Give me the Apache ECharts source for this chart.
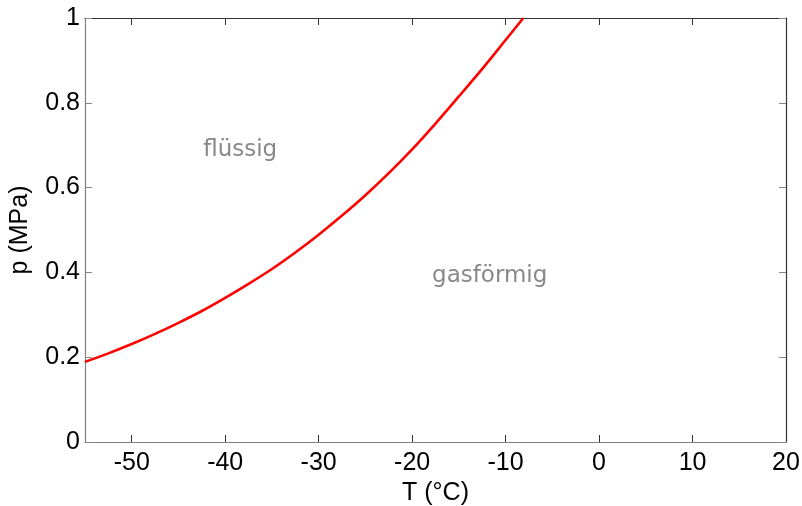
<!DOCTYPE html>
<html>
<head>
<meta charset="utf-8">
<script src="https://cdn.jsdelivr.net/npm/echarts@6/dist/echarts.min.js"></script>
<style>html,body{margin:0;padding:0;background:#fff}#c{width:802px;height:506px}</style>
</head>
<body>
<div id="c"></div>
<script>
var temps = [-55,-52.5,-50,-47.5,-45,-42.5,-40,-37.5,-35,-32.5,-30,-27.5,-25,-22.5,-20,-17.5,-15,-12.5,-10,-8.1];
var pressures = [0.189,0.209,0.231,0.255,0.281,0.309,0.340,0.373,0.408,0.447,0.489,0.534,0.582,0.634,0.690,0.751,0.815,0.880,0.948,1.0];
var xTicks = [-50,-40,-30,-20,-10,0,10,20];
var yTicks = [0,0.2,0.4,0.6,0.8,1];
var labels = [
  {text:'flüssig', T:-38.4, p:0.689},
  {text:'gasförmig', T:-11.7, p:0.392}
];

var chart = echarts.init(document.getElementById('c'));
var font = 'Liberation Sans, Arial, sans-serif';
function xAx(pos, show, lineColor){
  return {type:'value', min:-55, max:20, interval:10, position:pos,
    name: show ? 'T (°C)' : '', nameLocation:'middle', nameGap:37,
    nameTextStyle:{color:'#000', fontSize:25, fontFamily:font},
    axisLine:{show:true, onZero:false, lineStyle:{color:lineColor, width:1.2}},
    axisTick:{show:true, inside:true, length:7, lineStyle:{color:'#333'}, customValues: xTicks},
    axisLabel:{show:show, color:'#000', fontSize:25, fontFamily:font, margin:9, customValues: xTicks},
    splitLine:{show:false}};
}
function yAx(pos, show, lineColor){
  return {type:'value', min:0, max:1, interval:0.2, position:pos,
    name: show ? 'p (MPa)' : '', nameLocation:'middle', nameGap:52,
    nameTextStyle:{color:'#000', fontSize:25, fontFamily:font},
    axisLine:{show:true, onZero:false, lineStyle:{color:lineColor, width:1.2}},
    axisTick:{show:true, inside:true, length:7, lineStyle:{color:'#888'}, customValues: yTicks},
    axisLabel:{show:show, color:'#000', fontSize:25, fontFamily:font, margin:5, customValues: yTicks,
      formatter:function(v){return String(Math.round(v*10)/10);}},
    splitLine:{show:false}};
}
chart.setOption({
  animation:false,
  grid:{left:85, right:16, top:18, bottom:64, containLabel:false, outerBoundsMode:'none'},
  xAxis:[xAx('bottom', true, '#808080'), xAx('top', false, '#333')],
  yAxis:[yAx('left', true, '#808080'), yAx('right', false, '#333')],
  series:[
    {type:'line', data: temps.map(function(t,i){return [t, pressures[i]];}),
     smooth:0.3, showSymbol:false, lineStyle:{color:'#ff0000', width:2.6}, clip:true},
    {type:'scatter', symbolSize:0,
     data: labels.map(function(l){return {value:[l.T, l.p], name:l.text};}),
     label:{show:true, position:'inside', formatter:'{b}', color:'#6a6a6a', fontSize:23,
       fontFamily:'DejaVu Sans, Verdana, sans-serif'}}
  ]
});
</script>
</body>
</html>
